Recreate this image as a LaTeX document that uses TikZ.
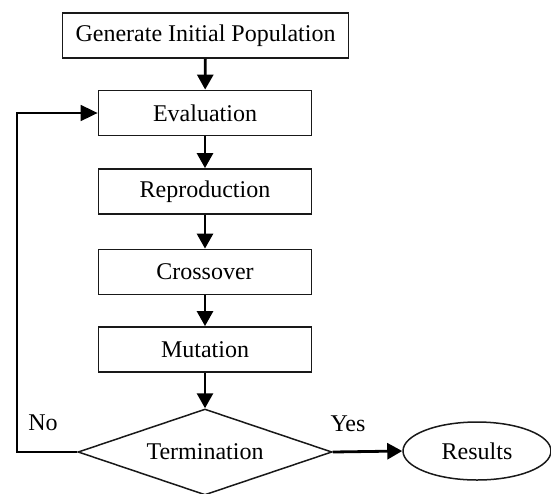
\documentclass[tikz,border=0pt]{standalone}
\usepackage{fontspec}
\setmainfont{Liberation Serif}
\usetikzlibrary{shapes.geometric,arrows.meta}
\begin{document}
\begin{tikzpicture}[x=1pt,y=-1pt,
  txt/.style={font=\fontsize{24}{28}\selectfont, text=black},
  box/.style={txt, draw=black!90, line width=1.8pt, minimum width=213pt,
    minimum height=45pt, inner sep=0pt},
  decision/.style={txt, diamond, draw=black!90, line width=1.5pt, aspect=2.95,
    minimum width=254pt, minimum height=86pt, inner sep=0pt},
  terminal/.style={txt, ellipse, draw=black!90, line width=1.5pt,
    minimum width=148pt, minimum height=58pt, inner sep=0pt},
  flow/.style={line width=2.8pt, draw=black,
    -{Triangle[length=15pt,width=16pt]}},
  back/.style={line width=1.8pt, draw=black,
    -{Triangle[length=17pt,width=16pt]}},
  label/.style={txt, inner sep=0pt}]
\useasboundingbox (0,0) rectangle (551,493);
\fill[white] (0,0) rectangle (551,493);

% main sequence of steps
\node[box, minimum width=286pt] (gen) at (205.5,35.5) {Generate Initial Population};
\node[box] (eval)  at (205,113)   {Evaluation};
\node[box] (repro) at (205,191.5) {Reproduction};
\node[box] (cross) at (205,272)   {Crossover};
\node[box] (mut)   at (205,349.5) {Mutation};
\node[decision] (term) at (205,452) {Termination};
\node[terminal] (res) at (477,451) {Results};

% branch labels
\node[label] (no)  at (43,423)  {No};
\node[label] (yes) at (348,424) {Yes};

% connectors
\draw[flow] (gen) -- (eval);
\draw[flow] (eval) -- (repro);
\draw[flow] (repro) -- (cross);
\draw[flow] (cross) -- (mut);
\draw[flow] (mut) -- (term);
\draw[flow] (term.east) -- (res.west);

\coordinate (loop) at (17,452);
\draw[back] (term.west) -- (loop) |- (eval.west);
\end{tikzpicture}
\end{document}
